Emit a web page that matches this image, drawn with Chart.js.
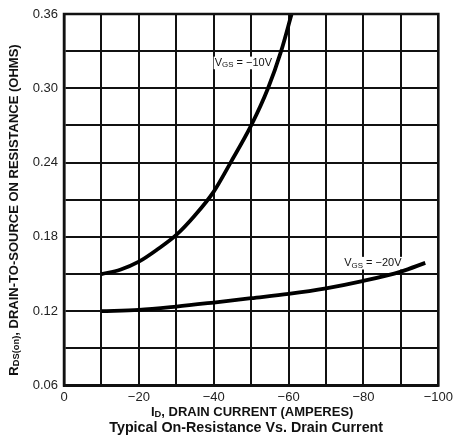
<!DOCTYPE html>
<html>
<head>
<meta charset="utf-8">
<script src="https://cdn.jsdelivr.net/npm/chart.js@4"></script>
<style>
  html, body { margin: 0; padding: 0; background: #fff; }
  #wrap { width: 457px; height: 439px; position: relative; }
</style>
</head>
<body>
<div id="wrap"><canvas id="myChart"></canvas></div>
<script>
// Drain current (A) and on-resistance (ohms)
const idVgs10 = [-10, -15, -20, -25, -30, -35, -40, -44.5, -50, -54.5, -58, -60.8];
const rVgs10 = [0.150, 0.1535, 0.160, 0.170, 0.1816, 0.1975, 0.2166, 0.240, 0.270, 0.300, 0.330, 0.360];
const idVgs20 = [-10, -20, -30, -40, -50, -60, -70, -80, -90, -96.5];
const rVgs20 = [0.120, 0.121, 0.1237, 0.127, 0.1305, 0.134, 0.1385, 0.1445, 0.152, 0.159];

// Axis ticks
const xTicks = [0, -20, -40, -60, -80, -100];
const yTicks = [0.06, 0.12, 0.18, 0.24, 0.30, 0.36];

const FONT = "'Liberation Sans', Arial, Helvetica, sans-serif";

function toPoints(xs, ys) {
  return xs.map((x, i) => ({ x: x, y: ys[i] }));
}

// Draw text made of normal and subscript pieces, centred on (cx, cy)
function drawRich(ctx, parts, cx, cy, size, weight, knockout) {
  const subSize = size * 0.72;
  let total = 0;
  parts.forEach(p => {
    ctx.font = weight + " " + (p.sub ? subSize : size) + "px " + FONT;
    p.w = ctx.measureText(p.t).width;
    total += p.w;
  });
  let x = cx - total / 2;
  if (knockout) {
    // white box behind the label so grid lines stop at the text
    ctx.save();
    ctx.fillStyle = "#fff";
    ctx.fillRect(x - 1, cy - size * 0.55, total + 2, size * 1.15);
    ctx.restore();
  }
  ctx.textAlign = "left";
  ctx.textBaseline = "middle";
  parts.forEach(p => {
    ctx.font = weight + " " + (p.sub ? subSize : size) + "px " + FONT;
    ctx.fillText(p.t, x, p.sub ? cy + size * 0.22 : cy);
    x += p.w;
  });
}

const labelPlugin = {
  id: "labelPlugin",
  beforeDatasetsDraw(chart) {
    const ctx = chart.ctx;
    const xs = chart.scales.x;
    const ys = chart.scales.y;
    ctx.save();
    ctx.fillStyle = "#111";
    drawRich(ctx, [{ t: "V" }, { t: "GS", sub: true }, { t: " = \u221210V" }],
      xs.getPixelForValue(-47.9), ys.getPixelForValue(0.3207), 11, "normal", true);
    drawRich(ctx, [{ t: "V" }, { t: "GS", sub: true }, { t: " = \u221220V" }],
      xs.getPixelForValue(-82.5), ys.getPixelForValue(0.159), 11, "normal", true);
    ctx.restore();
  }
};

const textPlugin = {
  id: "textPlugin",
  afterDraw(chart) {
    const ctx = chart.ctx;
    const area = chart.chartArea;
    ctx.save();
    ctx.fillStyle = "#111";

    // x axis title and chart title
    const cx = (area.left + area.right) / 2;
    drawRich(ctx, [{ t: "I" }, { t: "D", sub: true }, { t: ", DRAIN CURRENT (AMPERES)" }],
      cx + 1, 412, 13, "bold");
    drawRich(ctx, [{ t: "Typical On-Resistance Vs. Drain Current" }],
      cx - 5, 428, 14.3, "bold");

    // y axis title, rotated
    ctx.translate(14, 210);
    ctx.rotate(-Math.PI / 2);
    drawRich(ctx, [{ t: "R" }, { t: "DS(on)", sub: true }, { t: ", DRAIN-TO-SOURCE ON RESISTANCE (OHMS)" }],
      0, 0, 13, "bold");
    ctx.restore();
  }
};

const ctx = document.getElementById("myChart").getContext("2d");
new Chart(ctx, {
  type: "line",
  data: {
    datasets: [
      {
        label: "VGS = -10V",
        data: toPoints(idVgs10, rVgs10),
        borderColor: "#000",
        borderWidth: 3.8,
        pointRadius: 0,
        cubicInterpolationMode: "monotone",
        fill: false
      },
      {
        label: "VGS = -20V",
        data: toPoints(idVgs20, rVgs20),
        borderColor: "#000",
        borderWidth: 3.8,
        pointRadius: 0,
        cubicInterpolationMode: "monotone",
        fill: false
      }
    ]
  },
  options: {
    responsive: true,
    maintainAspectRatio: false,
    animation: false,
    layout: { padding: { left: 0, right: 18, top: 14, bottom: 0 } },
    plugins: {
      legend: { display: false },
      title: { display: false },
      tooltip: { enabled: false }
    },
    scales: {
      x: {
        type: "linear",
        min: -100,
        max: 0,
        reverse: true,
        afterFit(scale) { scale.height = 53.5; },
        grid: { color: "#111", lineWidth: 2, drawTicks: false },
        border: { color: "#111", width: 2.5 },
        ticks: {
          stepSize: 10,
          padding: 4,
          color: "#222",
          font: { family: FONT, size: 13 },
          maxRotation: 0,
          callback: v => xTicks.includes(v) ? (v === 0 ? "0" : "\u2212" + Math.abs(v)) : ""
        }
      },
      y: {
        min: 0.06,
        max: 0.36,
        afterFit(scale) { scale.width = 64; },
        grid: { color: "#111", lineWidth: 2, drawTicks: false },
        border: { color: "#111", width: 2.5 },
        ticks: {
          stepSize: 0.03,
          padding: 6,
          color: "#222",
          font: { family: FONT, size: 13 },
          callback: v => yTicks.some(t => Math.abs(t - v) < 1e-6) ? v.toFixed(2) : ""
        }
      }
    }
  },
  plugins: [labelPlugin, textPlugin, {
    // right and top frame lines
    id: "frame",
    afterDatasetsDraw(chart) {
      const a = chart.chartArea;
      const c = chart.ctx;
      c.save();
      c.strokeStyle = "#111";
      c.lineWidth = 2.5;
      c.strokeRect(a.left, a.top, a.right - a.left, a.bottom - a.top);
      c.restore();
    }
  }]
});
</script>
</body>
</html>
